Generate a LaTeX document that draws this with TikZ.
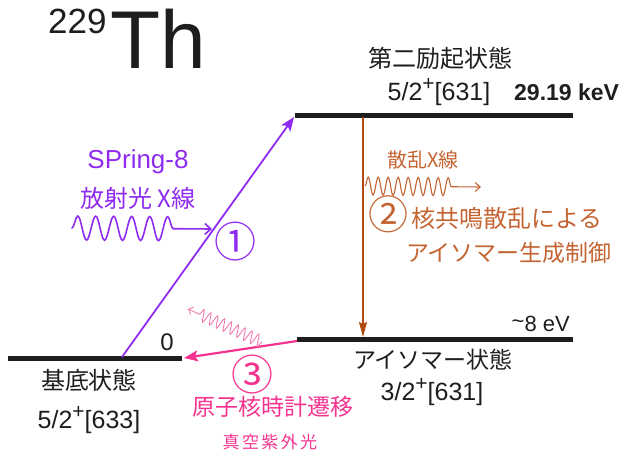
\documentclass[tikz,border=0pt]{standalone}
\usepackage{fontspec}
\setmainfont{Liberation Sans}
\newfontfamily\jp{Noto Sans CJK JP}
\newfontfamily\jpwide[LetterSpace=14]{Noto Sans CJK JP}
\usetikzlibrary{arrows.meta,decorations.pathmorphing}
\definecolor{vio}{HTML}{8F2BF0}
\definecolor{brn}{HTML}{B04A0E}
\definecolor{brntxt}{HTML}{C46432}
\definecolor{pnk}{HTML}{F5338F}
\definecolor{pnkl}{HTML}{F07AAE}
\definecolor{ink}{HTML}{1E1E1E}
\newcommand\myfs[1]{\fontsize{#1}{#1}\selectfont}
\newcommand\supp{\raisebox{0.42em}{\myfs{21}+}}
\begin{document}
\begin{tikzpicture}[x=1pt,y=-1pt,
  lvl/.style={line width=5pt, ink},
  txt/.style={inner sep=0pt, text=ink},
  circ/.style={inner sep=0pt},
  wave/.style={decorate, line width=1.1pt, line cap=round},
]
\useasboundingbox (0,0) rectangle (624,455);
% title
\node[txt, anchor=base west, font=\myfs{35}] (mass) at (48,33) {229};
\node[txt, anchor=base west, font=\myfs{82}] (th) at (110,68) {Th};
% levels
\coordinate (g1) at (8,358);   \coordinate (g2) at (182,358);
\coordinate (e1) at (295,115); \coordinate (e2) at (573,115);
\coordinate (i1) at (297,339); \coordinate (i2) at (573,339);
\draw[lvl] (g1) -- (g2);
\draw[lvl] (e1) -- (e2);
\draw[lvl] (i1) -- (i2);
% level labels
\node[txt, font=\jp\myfs{24}] (e2name) at (440,58) {第二励起状態};
\node[txt, font=\myfs{25}] (e2spin) at (439,92) {5/2\supp[631]};
\node[txt, anchor=base west, font=\bfseries\myfs{23}] (e2en) at (514,100) {29.19 keV};
\node[txt, anchor=base east, font=\myfs{22}] (ien) at (570,331) {\raisebox{0.1em}{\char"7E}8 eV};
\node[txt, font=\jp\myfs{23}] (iname) at (433,360) {アイソマー状態};
\node[txt, font=\myfs{25}] (ispin) at (432,392) {3/2\supp[631]};
\node[txt, font=\myfs{24}] (gen) at (167,342) {0};
\node[txt, font=\jp\myfs{24}] (gname) at (89,380) {基底状態};
\node[txt, font=\myfs{25}] (gspin) at (89,420) {5/2\supp[633]};
% (1) excitation
\coordinate (pa) at (122,357);
\coordinate (pb) at (294,117);
\draw[vio, line width=1.8pt, -{Stealth[length=14pt,width=11pt,inset=3pt]}] (pa) -- (pb);
\node[text=vio, inner sep=0pt, font=\myfs{26}] (spring) at (138,162) {SPring-8};
\node[text=vio, inner sep=0pt, font=\jp\myfs{24}] (sx) at (138,198) {放射光 X線};
\coordinate (w1a) at (72,228);
\coordinate (w1b) at (212,229);
\draw[vio, wave, line width=1.6pt, decoration={snake, amplitude=12pt, segment length=18pt, post length=30pt},
  -{Straight Barb[length=6pt,width=11pt]}] (w1a) -- (w1b);
\node[text=vio, circ, font=\jp\myfs{42}] (c1) at (235,242) {①};
% (2) scattering
\coordinate (ba) at (363,117);
\coordinate (bb) at (363,337);
\draw[brn, line width=1.8pt, -{Stealth[length=15pt,width=8pt,inset=2pt]}] (ba) -- (bb);
\node[text=brntxt, inner sep=0pt, font=\jp\myfs{20}] (scx) at (423,160) {散乱X線};
\coordinate (w2a) at (365,186);
\coordinate (w2b) at (481,187);
\draw[brntxt, wave, line width=1.1pt, decoration={snake, amplitude=9pt, segment length=10pt, post length=26pt},
  -{Straight Barb[length=5pt,width=9pt]}] (w2a) -- (w2b);
\node[text=brntxt, circ, font=\jp\myfs{40}] (c2) at (388,214) {②};
\node[text=brntxt, inner sep=0pt, font=\jp\myfs{24}] (l2a) at (507,218) {核共鳴散乱による};
\node[text=brntxt, inner sep=0pt, font=\jp\myfs{23}] (l2b) at (509,253) {アイソマー生成制御};
% (3) clock transition
\coordinate (ka) at (297,341);
\coordinate (kb) at (184,358);
\draw[pnk, line width=2.2pt, -{Stealth[length=14pt,width=11pt,inset=3pt]}] (ka) -- (kb);
\coordinate (w3a) at (262,342);
\coordinate (w3b) at (188,309);
\draw[pnkl, wave, line width=0.9pt, decoration={snake, amplitude=6pt, segment length=7.5pt, post length=12pt},
  -{Straight Barb[length=4pt,width=8pt]}] (w3a) -- (w3b);
\node[text=pnk, circ, font=\jp\myfs{42}] (c3) at (252,375) {③};
\node[text=pnk, inner sep=0pt, font=\jp\myfs{23}] (l3a) at (273,407) {原子核時計遷移};
\node[text=pnk, inner sep=0pt, font=\jpwide\myfs{17}] (l3b) at (270,442) {真空紫外光};
\end{tikzpicture}
\end{document}
